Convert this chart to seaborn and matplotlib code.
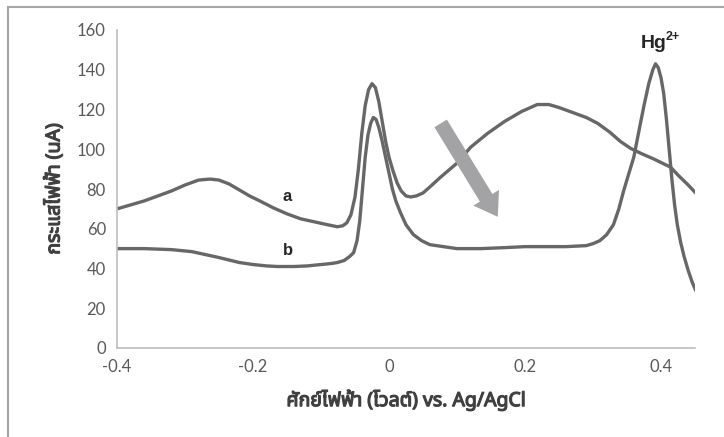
import numpy as np
import pandas as pd
import matplotlib
matplotlib.use("Agg")
import matplotlib.pyplot as plt
import matplotlib.patheffects as pe
from matplotlib.patches import Rectangle
import seaborn as sns

sns.set_style("white")
plt.rcParams["font.family"] = ["Noto Sans Thai", "Loma", "Garuda", "Lato", "DejaVu Sans"]

# curve a (before)
a_x = [-0.40, -0.38, -0.36, -0.34, -0.32, -0.30, -0.28, -0.263, -0.25, -0.235, -0.22,
       -0.205, -0.19, -0.17, -0.15, -0.13, -0.11, -0.09, -0.076, -0.068, -0.062, -0.056,
       -0.050, -0.045, -0.040, -0.035, -0.030, -0.025, -0.020, -0.015, -0.010, -0.005,
       0.000, 0.006, 0.012, 0.018, 0.025, 0.032, 0.040, 0.050, 0.060, 0.076, 0.10, 0.12,
       0.145, 0.17, 0.195, 0.218, 0.235, 0.25, 0.27, 0.29, 0.307, 0.325, 0.34, 0.355,
       0.37, 0.39, 0.405, 0.414, 0.425, 0.44, 0.451]
a_y = [70, 72, 74, 76.5, 79, 82, 84.5, 85, 84.5, 82.5, 79.5,
       76.5, 74, 70.5, 67.5, 65, 63.5, 62, 61, 61.5, 63, 67,
       76, 90, 108, 122, 130, 133, 131, 124, 114, 104,
       96, 89, 83, 79, 76.5, 76, 76.5, 78, 81, 86, 93, 101,
       108, 114, 119, 122.5, 122.5, 121, 118.5, 116, 113, 108.5, 104, 100.5,
       98, 95, 92.5, 91, 87, 82, 78]

# curve b (with Hg2+)
b_x = [-0.40, -0.36, -0.32, -0.29, -0.27, -0.25, -0.238, -0.22, -0.20, -0.18, -0.164,
       -0.14, -0.12, -0.10, -0.085, -0.076, -0.066, -0.058, -0.052, -0.047, -0.043,
       -0.039, -0.035, -0.031, -0.027, -0.023, -0.019, -0.015, -0.010, -0.005, 0.000,
       0.005, 0.010, 0.017, 0.025, 0.036, 0.048, 0.06, 0.08, 0.10, 0.135, 0.17, 0.20,
       0.26, 0.29, 0.30, 0.31, 0.32, 0.33, 0.338, 0.345, 0.352, 0.36, 0.368, 0.375,
       0.382, 0.388, 0.392, 0.396, 0.400, 0.404, 0.408, 0.412, 0.416, 0.420, 0.424,
       0.429, 0.434, 0.440, 0.446, 0.451]
b_y = [50, 50, 49.5, 48.5, 47, 45.5, 44.5, 43, 42, 41.3, 41,
       41, 41.3, 42, 42.5, 43, 44, 46, 48, 54, 64,
       80, 96, 107, 113, 116, 115, 111, 104, 96, 88,
       80, 74, 68, 62, 57, 54, 52, 51, 50, 50, 50.5, 51,
       51, 51.5, 52.5, 54, 57, 62, 70, 79, 87, 96, 110, 122,
       133, 140, 143, 141, 136, 128, 115, 100, 85, 72, 62,
       53, 46, 39, 33, 29]

x_ticks = [-0.4, -0.2, 0, 0.2, 0.4]
x_tick_labels = ["-0.4", "-0.2", "0", "0.2", "0.4"]
y_ticks = [0, 20, 40, 60, 80, 100, 120, 140, 160]

arrow_from = (0.076, 113)
arrow_to = (0.160, 66)

df_a = pd.DataFrame({"E": a_x, "I": a_y})
df_b = pd.DataFrame({"E": b_x, "I": b_y})

fig = plt.figure(figsize=(7.24, 4.37), dpi=100)
ax = fig.add_axes([117 / 724, 1 - 348 / 437, (695 - 117) / 724, (348 - 30) / 437])

line_col = "#676767"
for d in [df_a, df_b]:
    sns.lineplot(data=d, x="E", y="I", ax=ax, sort=False, color=line_col, lw=2.4,
                 solid_joinstyle="round", solid_capstyle="round")

ax.annotate("", xy=arrow_to, xytext=arrow_from,
            arrowprops=dict(arrowstyle="simple,head_width=1.55,head_length=1.15,tail_width=0.75",
                            mutation_scale=14, color="#a3a3a5", lw=0, shrinkA=0, shrinkB=0))

lab_kw = dict(fontsize=12, fontweight="bold", color="#262626", family="Liberation Sans",
              ha="center", va="center")
ax.text(-0.15, 76, "a", **lab_kw)
ax.text(-0.148, 49, "b", **lab_kw)
ax.text(0.389, 153, "Hg", **{**lab_kw, "fontsize": 14})
ax.annotate("2+", xy=(0.389, 153), xytext=(8.5, 5), textcoords="offset points",
            fontsize=9, fontweight="bold", color="#262626", family="Liberation Sans",
            ha="left", va="center")

ax.set_xlim(-0.4, 0.45)
ax.set_ylim(0, 160)
ax.set_xticks(x_ticks)
ax.set_xticklabels(x_tick_labels)
ax.set_yticks(y_ticks)
ax.tick_params(length=0, labelsize=12, labelcolor="#595959", pad=8)
for lab in ax.get_xticklabels() + ax.get_yticklabels():
    lab.set_family(["Lato", "DejaVu Sans"])

bold = [pe.withStroke(linewidth=0.9, foreground="#404040")]
ax.set_xlabel("ศักย์ไฟฟ้า (โวลต์) vs. Ag/AgCl", fontsize=14, fontweight="bold",
              color="#404040", labelpad=10, path_effects=bold)
ax.set_ylabel("กระแสไฟฟ้า (uA)", fontsize=14, fontweight="bold", color="#404040",
              labelpad=9, path_effects=bold)

sns.despine(ax=ax)
for side in ["left", "bottom"]:
    ax.spines[side].set_color("#bdbdbd")
    ax.spines[side].set_linewidth(1.2)

# outer frame
fig.patches.append(Rectangle((8 / 724, -0.2), 1.2, 1.2 - 7 / 437, transform=fig.transFigure,
                             fill=False, edgecolor="#a6a6a6", lw=1.5, zorder=0))

fig.savefig("out.png", dpi=100)
